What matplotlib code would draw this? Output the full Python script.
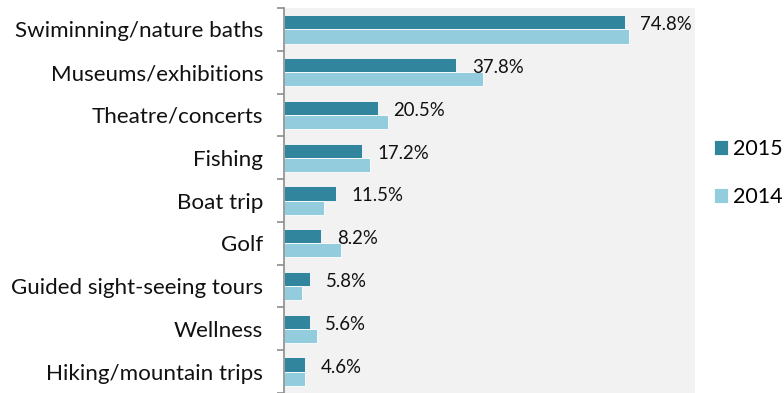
import matplotlib
matplotlib.use("Agg")
import matplotlib.pyplot as plt
import numpy as np

categories = [
    "Swiminning/nature baths",
    "Museums/exhibitions",
    "Theatre/concerts",
    "Fishing",
    "Boat trip",
    "Golf",
    "Guided sight-seeing tours",
    "Wellness",
    "Hiking/mountain trips",
]
values_2015 = [74.8, 37.8, 20.5, 17.2, 11.5, 8.2, 5.8, 5.6, 4.6]
values_2014 = [75.6, 43.6, 22.7, 18.8, 8.7, 12.4, 3.9, 7.2, 4.5]

DARK_TEAL = "#31859c"
LIGHT_BLUE = "#93cddd"
PLOT_BG = "#f2f2f2"
TEXT = "#111111"

plt.rcParams.update({"font.family": ["Lato", "DejaVu Sans"]})
fig = plt.figure(figsize=(7.84, 3.93), dpi=100)
ax = fig.add_axes([284 / 784, 0.0, (695 - 284) / 784, 1 - 8 / 393])
ax.set_facecolor(PLOT_BG)

y = np.arange(len(categories))
h = 0.33
ax.barh(y - h / 2, values_2015, height=h, color=DARK_TEAL, edgecolor="white",
        linewidth=0.6, label="2015")
ax.barh(y + h / 2, values_2014, height=h, color=LIGHT_BLUE, edgecolor="white",
        linewidth=0.6, label="2014")

for yi, v in zip(y, values_2015):
    ax.annotate(f"{v:.1f}%", (v, yi - h / 2), xytext=(11, -1.8), textcoords="offset points",
                ha="left", va="center", fontsize=13.4, color=TEXT)

ax.set_xlim(0, 90.1)
ax.set_ylim(len(categories) - 0.5, -0.5)
ax.set_yticks(np.arange(len(categories) + 1) - 0.5, minor=False)
ax.set_yticklabels([])
ax.set_yticks(y, minor=True)
ax.set_yticklabels(categories, minor=True, fontsize=16.1, color=TEXT)
ax.tick_params(axis="y", which="major", length=5, color="#8c8c8c", width=1.2)
ax.tick_params(axis="y", which="minor", length=0, pad=15)
ax.set_xticks([])
for side in ("top", "right", "bottom"):
    ax.spines[side].set_visible(False)
ax.spines["left"].set_color("#8c8c8c")
ax.spines["left"].set_linewidth(1.2)

ax.legend(loc="upper left", bbox_to_anchor=(714 / 784, 1 - 139 / 393),
          bbox_transform=fig.transFigure, frameon=False, fontsize=15.5,
          borderpad=0, borderaxespad=0, handlelength=0.65, handleheight=0.65,
          handletextpad=0.25, labelspacing=1.3)

fig.savefig("out.png", dpi=100)
